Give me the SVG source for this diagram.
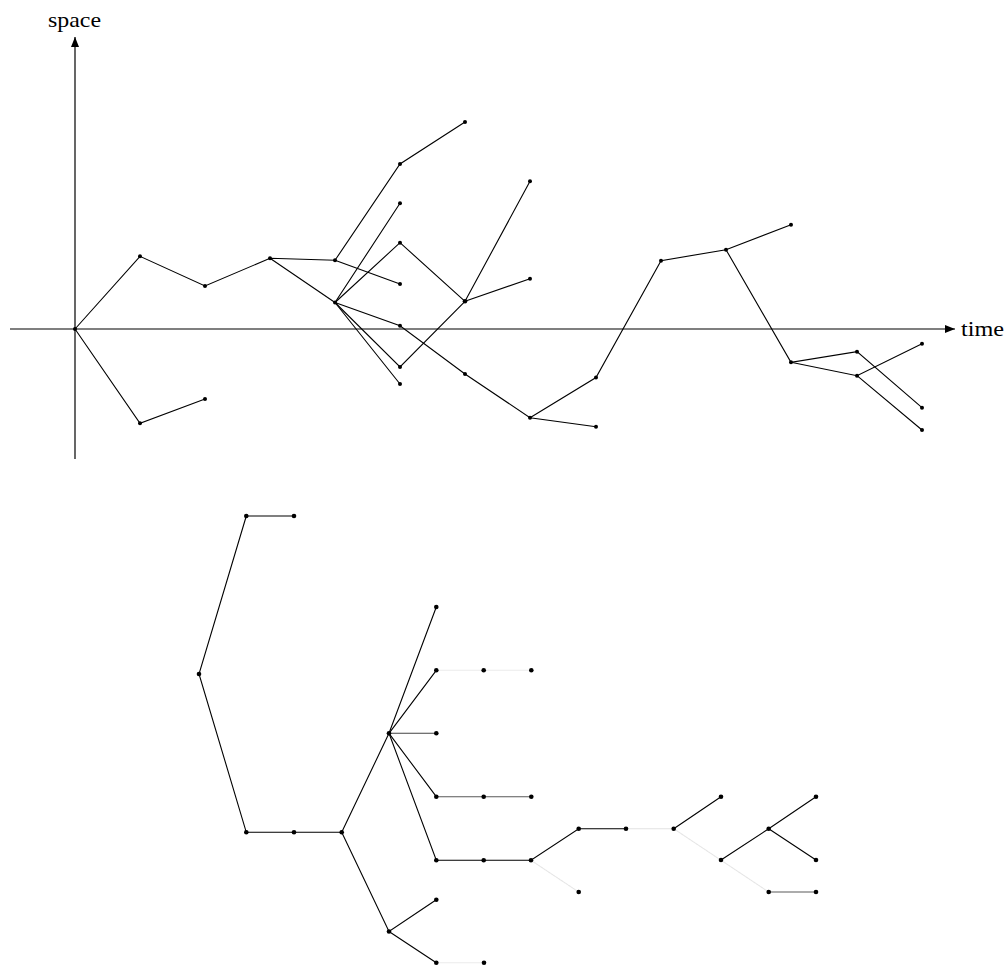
<svg xmlns="http://www.w3.org/2000/svg" width="1008" height="966" viewBox="0 0 1008 966">
<style>
.ax{stroke:#000;stroke-width:1.2;fill:none}
.e{stroke:#000;stroke-width:1.1;fill:none;stroke-linecap:round}
.g1{stroke:#444}
.g2{stroke:#5a5a5a}
.l1{stroke:#ececec}
.l2{stroke:#e2e2e2}
.l3{stroke:#e6e6e6;stroke-dasharray:2 1}
.d circle{fill:#000}
.lbl{font-family:"Liberation Serif","DejaVu Serif",serif;font-size:21px;fill:#000}
</style>
<defs>
<marker id="ah" viewBox="0 0 10 8" refX="10" refY="4" markerWidth="10" markerHeight="8" markerUnits="userSpaceOnUse" orient="auto">
<path d="M0,0 L10,4 L0,8 Z" fill="#000"/>
</marker>
</defs>
<rect width="1008" height="966" fill="#fff"/>
<g id="axes">
<line class="ax" x1="75" y1="459" x2="75" y2="37" marker-end="url(#ah)"/>
<line class="ax" x1="10" y1="329" x2="955" y2="329" marker-end="url(#ah)"/>
<text class="lbl" x="48" y="27" textLength="53" lengthAdjust="spacingAndGlyphs">space</text>
<text class="lbl" x="961" y="336" textLength="43" lengthAdjust="spacingAndGlyphs">time</text>
</g>
<g id="connectors">
<g id="top-edges">
<polyline class="e" points="75,329 140,256.3 205,286 270,258.3 335,260.3 400,164 465,122"/>
<polyline class="e" points="75,329 140,423.3 205,399"/>
<line class="e" x1="270" y1="258.3" x2="335" y2="302.5"/>
<line class="e" x1="335" y1="260.3" x2="400" y2="284"/>
<line class="e" x1="335" y1="302.5" x2="400" y2="203.3"/>
<polyline class="e" points="335,302.5 400,242.7 465,301.3"/>
<polyline class="e" points="335,302.5 400,367 465,301.3"/>
<line class="e" x1="335" y1="302.5" x2="400" y2="384"/>
<line class="e" x1="465" y1="301.3" x2="530" y2="181.3"/>
<line class="e" x1="465" y1="301.3" x2="530" y2="278.7"/>
<polyline class="e" points="335,302.5 400,325.7 465,374 530,417.7 596,426.7"/>
<polyline class="e" points="530,417.7 596,377.5 661,260.7 726,249.7 791,224.7"/>
<polyline class="e" points="726,249.7 791,362.3 857,351.7 922,407.7"/>
<polyline class="e" points="791,362.3 857,375.7 922,343.7"/>
<line class="e" x1="857" y1="375.7" x2="922" y2="430"/>
</g>
<g id="bottom-edges">
<line class="e" x1="246.3" y1="516" x2="294" y2="516"/>
<polyline class="e" points="246.3,516 199,674 246.3,832.3 294,832.3 341.7,832.3"/>
<polyline class="e" points="341.7,832.3 389,733.3 436.3,607"/>
<line class="e" x1="389" y1="733.3" x2="436.3" y2="670.3"/>
<line class="e l1" x1="436.3" y1="670.3" x2="531.3" y2="670.3"/>
<line class="e g1" x1="389" y1="733.3" x2="436.3" y2="733.3"/>
<line class="e" x1="389" y1="733.3" x2="436.3" y2="796.7"/>
<line class="e g2" x1="436.3" y1="796.7" x2="531.3" y2="796.7"/>
<polyline class="e" points="389,733.3 436.3,860.3 483.7,860.3 531,860.3 578.7,828.7 626,828.7"/>
<line class="e l3" x1="531" y1="860.3" x2="578.7" y2="892"/>
<line class="e l2" x1="626" y1="828.7" x2="673.7" y2="828.7"/>
<line class="e" x1="673.7" y1="828.7" x2="721" y2="796.7"/>
<line class="e l3" x1="673.7" y1="828.7" x2="768.7" y2="892"/>
<polyline class="e" points="721,860 768.7,828.7 816,796.7"/>
<line class="e" x1="768.7" y1="828.7" x2="816" y2="860"/>
<line class="e g2" x1="768.7" y1="892" x2="816" y2="892"/>
<polyline class="e" points="341.7,832.3 389,931.5 436.3,899.7"/>
<line class="e" x1="389" y1="931.5" x2="436.3" y2="962.7"/>
<line class="e l1" x1="436.3" y1="962.7" x2="484" y2="962.7"/>
</g>
</g>
<g id="top-nodes" class="d">
<circle id="n-o" cx="75" cy="329" r="2"/>
<circle id="n-a1" cx="140" cy="256.3" r="2"/>
<circle id="n-a2" cx="205" cy="286" r="2"/>
<circle id="n-a3" cx="270" cy="258.3" r="2"/>
<circle id="n-b1" cx="335" cy="260.3" r="2"/>
<circle id="n-b2" cx="335" cy="302.5" r="2"/>
<circle id="n-l1" cx="140" cy="423.3" r="2"/>
<circle id="n-l2" cx="205" cy="399" r="2"/>
<circle id="n-c1" cx="400" cy="164" r="2"/>
<circle id="n-c2" cx="465" cy="122" r="2"/>
<circle id="n-c3" cx="400" cy="203.3" r="2"/>
<circle id="n-c4" cx="400" cy="242.7" r="2"/>
<circle id="n-c5" cx="400" cy="284" r="2"/>
<circle id="n-c6" cx="400" cy="325.7" r="2"/>
<circle id="n-c7" cx="400" cy="367" r="2"/>
<circle id="n-c8" cx="400" cy="384" r="2"/>
<circle id="n-d1" cx="465" cy="301.3" r="2.3"/>
<circle id="n-d2" cx="530" cy="181.3" r="2"/>
<circle id="n-d3" cx="530" cy="278.7" r="2"/>
<circle id="n-d4" cx="465" cy="374" r="2"/>
<circle id="n-d5" cx="530" cy="417.7" r="2"/>
<circle id="n-d6" cx="596" cy="426.7" r="2"/>
<circle id="n-d7" cx="596" cy="377.5" r="2"/>
<circle id="n-e1" cx="661" cy="260.7" r="2"/>
<circle id="n-e2" cx="726" cy="249.7" r="2"/>
<circle id="n-e3" cx="791" cy="224.7" r="2"/>
<circle id="n-e4" cx="791" cy="362.3" r="2"/>
<circle id="n-e5" cx="857" cy="351.7" r="2"/>
<circle id="n-e6" cx="857" cy="375.7" r="2"/>
<circle id="n-e7" cx="922" cy="343.7" r="2"/>
<circle id="n-e8" cx="922" cy="407.7" r="2"/>
<circle id="n-e9" cx="922" cy="430" r="2"/>
</g>
<g id="bottom-nodes" class="d">
<circle id="t1" cx="246.3" cy="516" r="2.3"/>
<circle id="t2" cx="294" cy="516" r="2.3"/>
<circle id="t3" cx="199" cy="674" r="2.3"/>
<circle id="t4" cx="246.3" cy="832.3" r="2.3"/>
<circle id="t5" cx="294" cy="832.3" r="2.3"/>
<circle id="t6" cx="341.7" cy="832.3" r="2.3"/>
<circle id="t7" cx="389" cy="733.3" r="2.3"/>
<circle id="t8" cx="436.3" cy="607" r="2.3"/>
<circle id="t9" cx="436.3" cy="670.3" r="2.3"/>
<circle id="t10" cx="483.7" cy="670.3" r="2.3"/>
<circle id="t11" cx="531.3" cy="670.3" r="2.3"/>
<circle id="t12" cx="436.3" cy="733.3" r="2.3"/>
<circle id="t13" cx="436.3" cy="796.7" r="2.3"/>
<circle id="t14" cx="483.7" cy="796.7" r="2.3"/>
<circle id="t15" cx="531.3" cy="796.7" r="2.3"/>
<circle id="t16" cx="436.3" cy="860.3" r="2.3"/>
<circle id="t17" cx="483.7" cy="860.3" r="2.3"/>
<circle id="t18" cx="531" cy="860.3" r="2.3"/>
<circle id="t19" cx="578.7" cy="828.7" r="2.3"/>
<circle id="t20" cx="626" cy="828.7" r="2.3"/>
<circle id="t21" cx="578.7" cy="892" r="2.3"/>
<circle id="t22" cx="673.7" cy="828.7" r="2.3"/>
<circle id="t23" cx="721" cy="796.7" r="2.3"/>
<circle id="t24" cx="721" cy="860" r="2.3"/>
<circle id="t25" cx="768.7" cy="828.7" r="2.3"/>
<circle id="t26" cx="816" cy="796.7" r="2.3"/>
<circle id="t27" cx="816" cy="860" r="2.3"/>
<circle id="t28" cx="768.7" cy="892" r="2.3"/>
<circle id="t29" cx="816" cy="892" r="2.3"/>
<circle id="t30" cx="389" cy="931.5" r="2.3"/>
<circle id="t31" cx="436.3" cy="899.7" r="2.3"/>
<circle id="t32" cx="436.3" cy="962.7" r="2.3"/>
<circle id="t33" cx="484" cy="962.7" r="2.3"/>
</g>
</svg>
